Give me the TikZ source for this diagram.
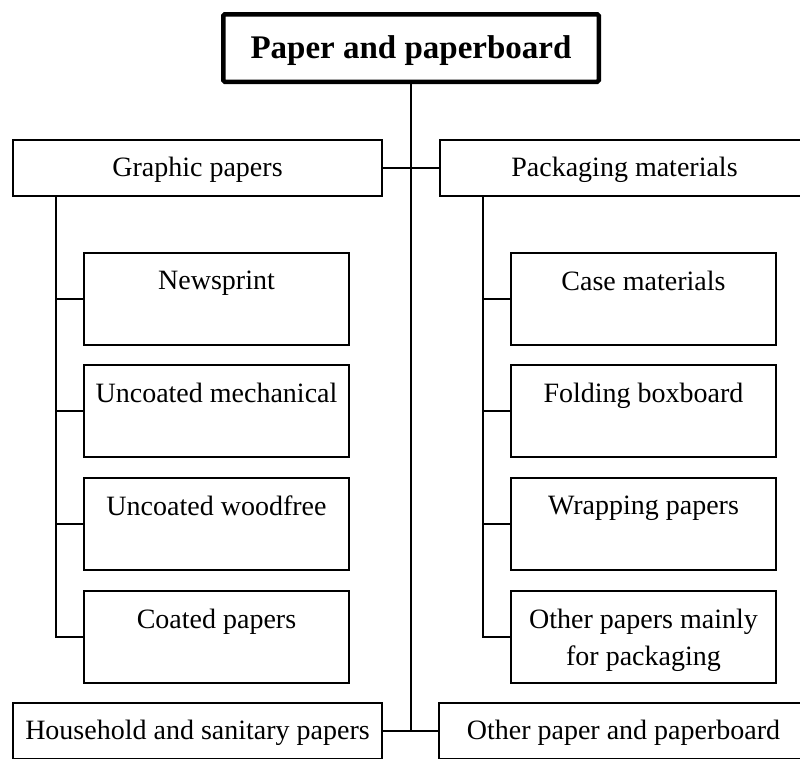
\documentclass[tikz,border=0pt]{standalone}
\usepackage{fontspec}
\setmainfont{Liberation Serif}
\begin{document}
\begin{tikzpicture}[x=1pt,y=-1pt,
  every node/.style={inner sep=0pt, outer sep=0pt},
  line/.style={draw=black, line width=2pt},
  titlebox/.style={draw, line width=4.5pt, rounded corners=1.5pt, minimum width=375.5pt, minimum height=67.5pt, font=\fontsize{33}{40}\selectfont\bfseries, text height=24pt, text depth=4pt},
  catbox/.style={draw, line width=2pt, minimum width=369pt, minimum height=56pt, font=\fontsize{28}{37}\selectfont, text height=20pt, text depth=3pt},
  childbox/.style={draw, line width=2pt, minimum width=265pt, minimum height=92pt},
  childtext/.style={anchor=north, align=center, font=\fontsize{28}{37}\selectfont},
]
\clip (0,0) rectangle (800,758);

\node[titlebox] (title) at (411,48) {Paper and paperboard};
\node[catbox] (graphic) at (197.5,168) {Graphic papers};
\node[catbox] (pack) at (624.5,168) {Packaging materials};
\node[catbox] (house) at (197.5,731) {Household and sanitary papers};
\node[catbox] (other) at (623.5,731) {Other paper and paperboard};

% left children
\node[childbox] (news) at (216.5,299) {};
\node[childtext] (newsT) at ([yshift=-18pt]news.north) {Newsprint};
\node[childbox] (mech) at (216.5,411) {};
\node[childtext] (mechT) at ([yshift=-18pt]mech.north) {Uncoated mechanical};
\node[childbox] (wood) at (216.5,524) {};
\node[childtext] (woodT) at ([yshift=-18pt]wood.north) {Uncoated woodfree};
\node[childbox] (coated) at (216.5,637) {};
\node[childtext] (coatedT) at ([yshift=-18pt]coated.north) {Coated papers};

% right children
\node[childbox] (case) at (643.5,299) {};
\node[childtext] (caseT) at ([yshift=-18pt]case.north) {Case materials};
\node[childbox] (fold) at (643.5,411) {};
\node[childtext] (foldT) at ([yshift=-18pt]fold.north) {Folding boxboard};
\node[childbox] (wrap) at (643.5,524) {};
\node[childtext] (wrapT) at ([yshift=-18pt]wrap.north) {Wrapping papers};
\node[childbox] (opack) at (643.5,637) {};
\node[childtext] (opackT) at ([yshift=-18pt]opack.north) {Other papers mainly\\for packaging};

% connectors
\draw[line] (title.south) -- (title.south |- house.east);
\draw[line] (graphic.east) -- (pack.west);
\draw[line] (house.east) -- (other.west);

\coordinate (gl) at ([xshift=43pt]graphic.south west);
\draw[line] (gl) |- (coated.west);
\draw[line] (gl |- news.west) -- (news.west);
\draw[line] (gl |- mech.west) -- (mech.west);
\draw[line] (gl |- wood.west) -- (wood.west);

\coordinate (pl) at ([xshift=43pt]pack.south west);
\draw[line] (pl) |- (opack.west);
\draw[line] (pl |- case.west) -- (case.west);
\draw[line] (pl |- fold.west) -- (fold.west);
\draw[line] (pl |- wrap.west) -- (wrap.west);
\end{tikzpicture}
\end{document}
